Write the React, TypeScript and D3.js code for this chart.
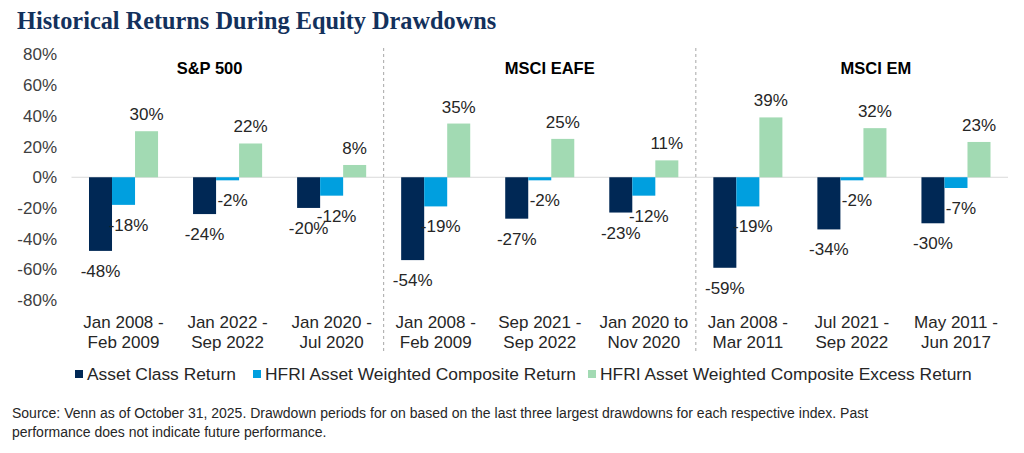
import * as d3 from "d3";
import { useLayoutEffect } from "react";

// chart data
const panels = ["S&P 500", "MSCI EAFE", "MSCI EM"];
const periods = [
  ["Jan 2008 -", "Feb 2009"],
  ["Jan 2022 -", "Sep 2022"],
  ["Jan 2020 -", "Jul 2020"],
  ["Jan 2008 -", "Feb 2009"],
  ["Sep 2021 -", "Sep 2022"],
  ["Jan 2020 to", "Nov 2020"],
  ["Jan 2008 -", "Mar 2011"],
  ["Jul 2021 -", "Sep 2022"],
  ["May 2011 -", "Jun 2017"],
];
const seriesNames = [
  "Asset Class Return",
  "HFRI Asset Weighted Composite Return",
  "HFRI Asset Weighted Composite Excess Return",
];
const assetClassReturn = [-48, -24, -20, -54, -27, -23, -59, -34, -30];
const hfriReturn = [-18, -2, -12, -19, -2, -12, -19, -2, -7];
const hfriExcessReturn = [30, 22, 8, 35, 25, 11, 39, 32, 23];
const yTicks = [80, 60, 40, 20, 0, -20, -40, -60, -80];

const colors = ["#002855", "#009fdf", "#a2dab3"];
const sans = "'Liberation Sans', Arial, sans-serif";

const width = 1024;
const height = 453;
const left = 71.5;
const right = 1008;
const top = 54.5;
const bottom = 300;
// annotation tweaks (panel title offsets from middle category, legend item x)
const panelTitleShift = [-18, 10, 24];
const legendX = [75, 253, 588];

export default function App() {
  useLayoutEffect(() => {
    document.body.style.margin = "0";
  }, []);

  const ids = periods.map((_, i) => String(i));
  const x = d3.scaleBand<string>().domain(ids).range([left, right]);
  const xs = d3
    .scaleBand<number>()
    .domain([0, 1, 2])
    .range([0, x.bandwidth()])
    .paddingInner(0)
    .paddingOuter(0.76);
  const y = d3.scaleLinear().domain([-80, 80]).range([bottom, top]);

  const series = [assetClassReturn, hfriReturn, hfriExcessReturn];
  const bw = xs.bandwidth();

  return (
    <svg width={width} height={height} style={{ display: "block", background: "#fff" }}>
      <text
        x={17}
        y={29}
        fontFamily="'Liberation Serif', 'Times New Roman', serif"
        fontWeight="bold"
        fontSize={24.3}
        fill="#13315c"
      >
        Historical Returns During Equity Drawdowns
      </text>

      {/* y tick labels */}
      <g fontFamily={sans} fontSize={17} fill="#404040" textAnchor="end">
        {yTicks.map((t) => (
          <text key={t} x={57} y={y(t)} dy="0.35em">
            {t}%
          </text>
        ))}
      </g>

      {/* zero line */}
      <line x1={left} x2={right} y1={y(0)} y2={y(0)} stroke="#d9d9d9" strokeWidth={1.2} />

      {/* panel separators */}
      {[3, 6].map((i) => (
        <line
          key={i}
          x1={x(String(i))!}
          x2={x(String(i))!}
          y1={48}
          y2={354}
          stroke="#a6a6a6"
          strokeDasharray="3,3"
          strokeWidth={1}
        />
      ))}

      {/* panel titles */}
      <g fontFamily={sans} fontSize={16.5} fontWeight="bold" fill="#000" textAnchor="middle">
        {panels.map((p, i) => (
          <text key={p} x={x(String(i * 3 + 1))! + x.bandwidth() / 2 + panelTitleShift[i]} y={74}>
            {p}
          </text>
        ))}
      </g>

      {/* bars */}
      {series.map((vals, s) => (
        <g key={s} fill={colors[s]}>
          {vals.map((v, i) => (
            <rect
              key={i}
              x={x(String(i))! + xs(s)!}
              y={y(Math.max(0, v))}
              width={bw}
              height={Math.abs(y(v) - y(0))}
            />
          ))}
        </g>
      ))}

      {/* data labels */}
      <g fontFamily={sans} fontSize={17} fill="#262626" textAnchor="middle">
        {series.map((vals, s) =>
          vals.map((v, i) => {
            const cx = x(String(i))! + xs(s)! + bw / 2 + (s === 1 ? 5 : 0);
            const ly = v < 0 ? y(v) + 26 : y(v) - 11;
            return (
              <text key={`${s}-${i}`} x={cx} y={ly}>
                {v}%
              </text>
            );
          })
        )}
      </g>

      {/* category labels */}
      <g fontFamily={sans} fontSize={17} fill="#262626" textAnchor="middle">
        {periods.map((lines, i) => (
          <text key={i} x={x(String(i))! + x.bandwidth() / 2} y={328}>
            <tspan x={x(String(i))! + x.bandwidth() / 2}>{lines[0]}</tspan>
            <tspan x={x(String(i))! + x.bandwidth() / 2} dy={20}>
              {lines[1]}
            </tspan>
          </text>
        ))}
      </g>

      {/* legend */}
      <g fontFamily={sans} fontSize={17.4} fill="#262626">
        {seriesNames.map((n, i) => (
          <g key={n} transform={`translate(${legendX[i]},370)`}>
            <rect width={8} height={8} fill={colors[i]} />
            <text x={12} y={4} dy="0.35em">
              {n}
            </text>
          </g>
        ))}
      </g>

      {/* source note */}
      <g fontFamily={sans} fontSize={14} fill="#262626">
        <text x={12} y={418}>
          Source: Venn as of October 31, 2025. Drawdown periods for on based on the last three largest
          drawdowns for each respective index. Past
        </text>
        <text x={12} y={437}>
          performance does not indicate future performance.
        </text>
      </g>
    </svg>
  );
}
